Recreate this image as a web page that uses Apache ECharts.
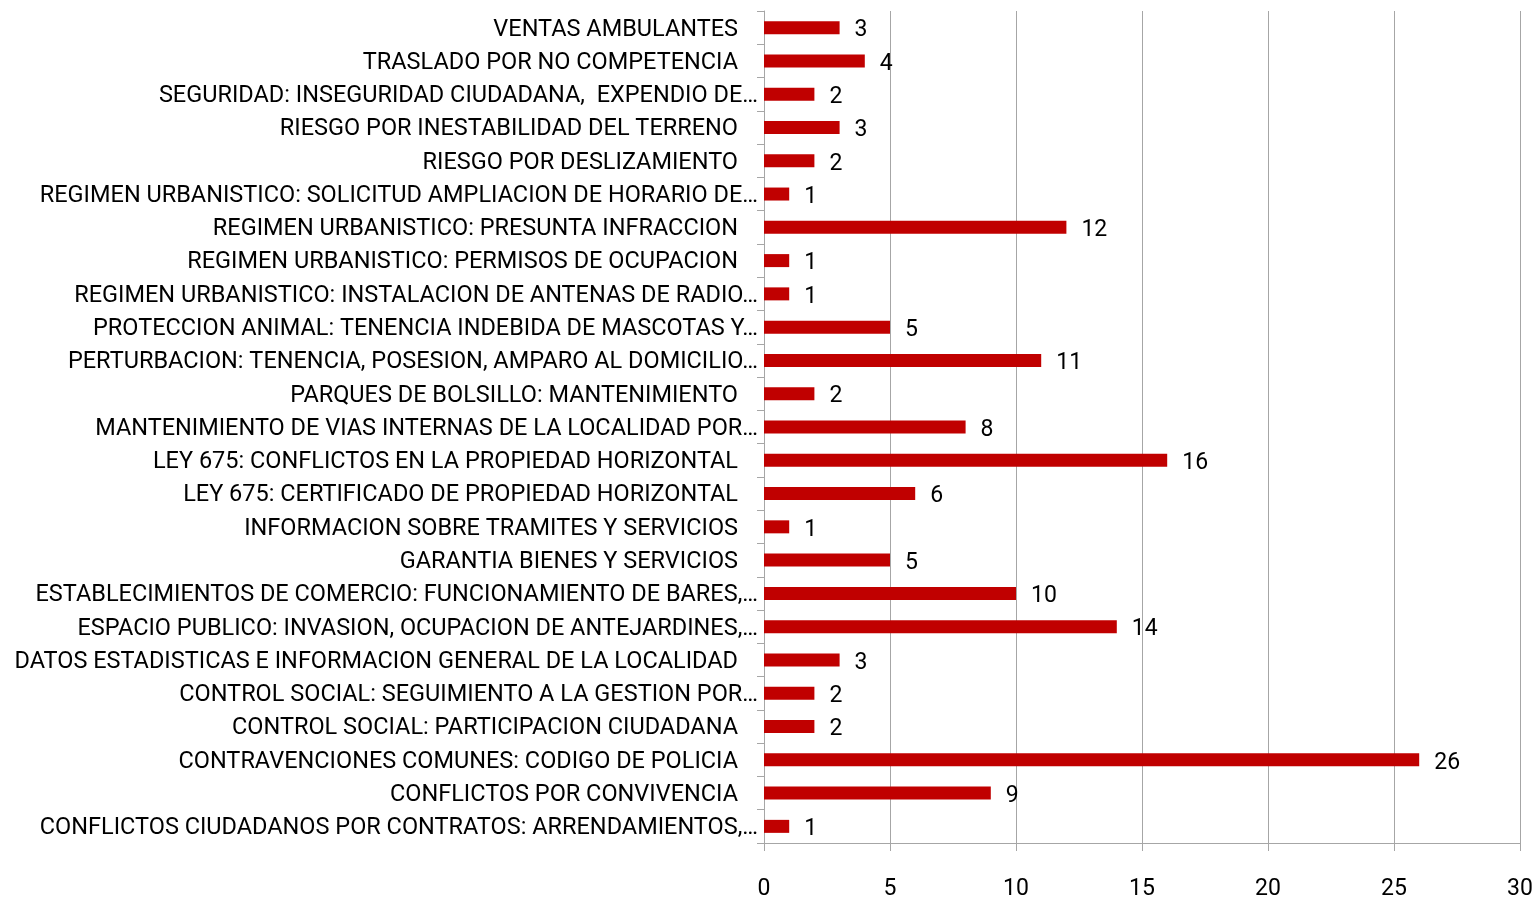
<!DOCTYPE html>
<html><head><meta charset="utf-8">
<script src="https://cdn.jsdelivr.net/npm/echarts@6/dist/echarts.min.js"></script>
<style>html,body{margin:0;padding:0;background:#fff}#c{width:1537px;height:898px}</style>
</head><body><div id="c"></div>
<script>
// top-to-bottom order as in the picture
const categories = [
  "VENTAS AMBULANTES",
  "TRASLADO POR NO COMPETENCIA",
  "SEGURIDAD: INSEGURIDAD CIUDADANA,  EXPENDIO DE…",
  "RIESGO POR INESTABILIDAD DEL TERRENO",
  "RIESGO POR DESLIZAMIENTO",
  "REGIMEN URBANISTICO: SOLICITUD AMPLIACION DE HORARIO DE…",
  "REGIMEN URBANISTICO: PRESUNTA INFRACCION",
  "REGIMEN URBANISTICO: PERMISOS DE OCUPACION",
  "REGIMEN URBANISTICO: INSTALACION DE ANTENAS DE RADIO…",
  "PROTECCION ANIMAL: TENENCIA INDEBIDA DE MASCOTAS Y…",
  "PERTURBACION: TENENCIA, POSESION, AMPARO AL DOMICILIO…",
  "PARQUES DE BOLSILLO: MANTENIMIENTO",
  "MANTENIMIENTO DE VIAS INTERNAS DE LA LOCALIDAD POR…",
  "LEY 675: CONFLICTOS EN LA PROPIEDAD HORIZONTAL",
  "LEY 675: CERTIFICADO DE PROPIEDAD HORIZONTAL",
  "INFORMACION SOBRE TRAMITES Y SERVICIOS",
  "GARANTIA BIENES Y SERVICIOS",
  "ESTABLECIMIENTOS DE COMERCIO: FUNCIONAMIENTO DE BARES,…",
  "ESPACIO PUBLICO: INVASION, OCUPACION DE ANTEJARDINES,…",
  "DATOS ESTADISTICAS E INFORMACION GENERAL DE LA LOCALIDAD",
  "CONTROL SOCIAL: SEGUIMIENTO A LA GESTION POR…",
  "CONTROL SOCIAL: PARTICIPACION CIUDADANA",
  "CONTRAVENCIONES COMUNES: CODIGO DE POLICIA",
  "CONFLICTOS POR CONVIVENCIA",
  "CONFLICTOS CIUDADANOS POR CONTRATOS: ARRENDAMIENTOS,…"
];
const values = [3,4,2,3,2,1,12,1,1,5,11,2,8,16,6,1,5,10,14,3,2,2,26,9,1];
const xTicks = {min:0, max:30, interval:5};

const FONT = "Roboto";
const chart = echarts.init(document.getElementById('c'));
chart.setOption({
  animation:false,
  grid:{left:764, right:17, top:11, bottom:55, containLabel:false, outerBoundsMode:'none'},
  xAxis:{
    type:'value', min:xTicks.min, max:xTicks.max, interval:xTicks.interval,
    axisLine:{show:true, lineStyle:{color:'#a6a6a6', width:1}},
    axisTick:{show:true, length:8, lineStyle:{color:'#a6a6a6'}},
    splitLine:{show:true, lineStyle:{color:'#a6a6a6', width:1}},
    axisLabel:{color:'#000', fontFamily:FONT, fontSize:23, margin:35}
  },
  yAxis:{
    type:'category', inverse:true, data:categories,
    axisLine:{show:true, lineStyle:{color:'#a6a6a6', width:1}},
    axisTick:{show:true, length:7, lineStyle:{color:'#a6a6a6'}},
    axisLabel:{
      color:'#000', fontFamily:FONT, fontSize:23.5, margin:6,
      formatter:function(v){ return v.endsWith('…') ? '{t|'+v+'}' : '{n|'+v+'}'; },
      rich:{
        t:{color:'#000', fontFamily:FONT, fontSize:23.5, padding:[4,0,0,0]},
        n:{color:'#000', fontFamily:FONT, fontSize:23.5, padding:[4,20,0,0]}
      }
    }
  },
  series:[{
    type:'bar', data:values, barWidth:13,
    itemStyle:{color:'#c00000'},
    label:{show:true, position:'right', distance:15, offset:[0,3], color:'#000', fontFamily:FONT, fontSize:23}
  }]
});
</script></body></html>
